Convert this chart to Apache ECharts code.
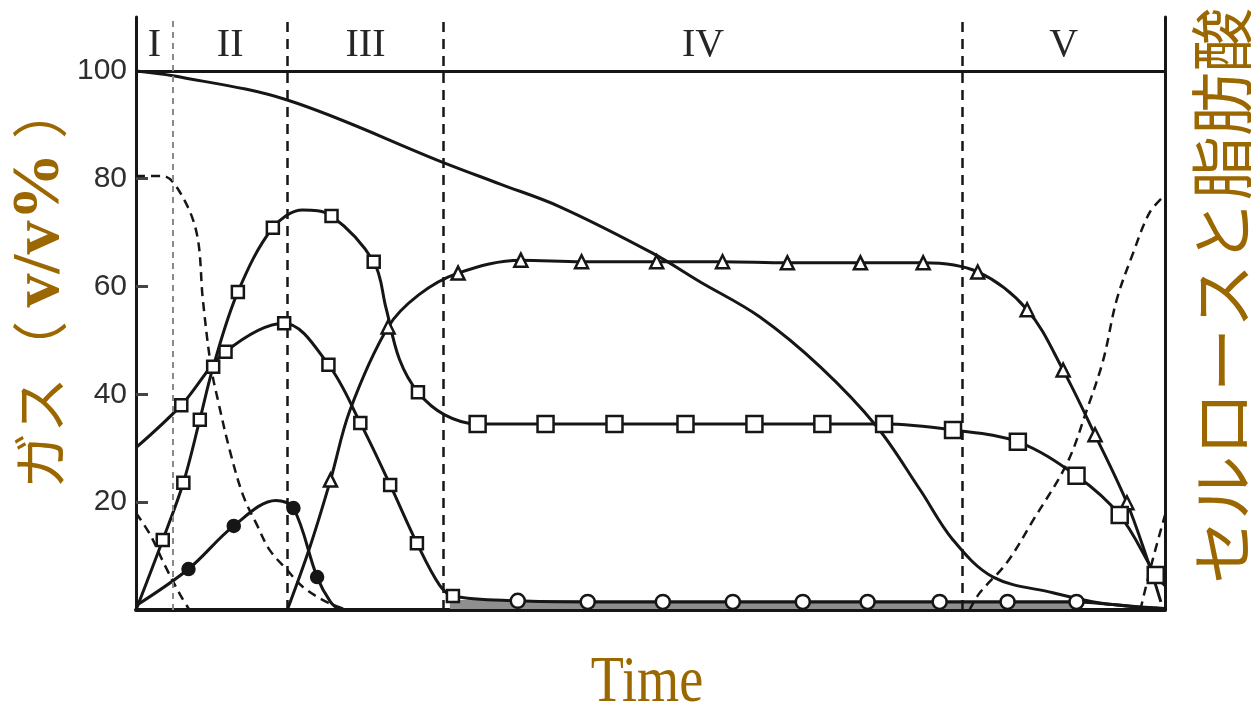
<!DOCTYPE html>
<html>
<head>
<meta charset="utf-8">
<title>ガス組成の推移</title>
<script src="https://cdn.jsdelivr.net/npm/echarts@6/dist/echarts.min.js"></script>
<style>
  html, body { margin: 0; padding: 0; background: #fff; }
  #chart { width: 1251px; height: 706px; }
</style>
</head>
<body>
<div id="chart"></div>
<script>
// 区分 (x は 0-100 の相対時間)
var phaseNames = ['I', 'II', 'III', 'IV', 'V'];
var phaseBounds = [0, 3.6, 14.7, 29.9, 80.3, 100];
var yTicks = [20, 40, 60, 80, 100];

// セルロース (実線・マーカーなし)
var cellulose = [[0, 100], [3.6, 99.1], [14.7, 94.6], [30, 82.9], [35.4, 79.0], [41.2, 74.8],
  [50.2, 66.2], [54.8, 60.9], [60.6, 54.4], [66.5, 45.1], [72.0, 34.0], [76.2, 22.3],
  [79.4, 13.0], [83.3, 6.1], [89.1, 3.2], [93.7, 1.3], [98.8, 0.4], [100, 0.2]];

// メタン (△)
var ch4Obs = [[18.9, 24.1], [24.5, 52.5], [31.3, 62.5], [37.4, 64.9], [43.3, 64.6], [50.6, 64.6],
  [57.0, 64.6], [63.3, 64.4], [70.4, 64.4], [76.5, 64.4], [81.8, 62.7], [86.6, 55.7],
  [90.1, 44.5], [93.2, 32.5], [96.3, 19.9]];
var ch4Line = [[14.7, 0], [16.9, 11.7], [20.8, 37.1], [27.5, 58.5], [98.3, 9.3], [99.6, 1.5]];

// 二酸化炭素 (□)
var co2Obs = [[2.6, 13.0], [4.6, 23.6], [6.2, 35.3], [7.5, 45.1], [9.9, 59.0], [13.3, 70.9],
  [19.0, 73.1], [23.1, 64.6], [27.4, 40.4], [33.2, 34.5], [39.8, 34.5], [46.5, 34.5],
  [53.4, 34.5], [60.1, 34.5], [66.7, 34.5], [72.7, 34.5], [79.4, 33.4], [85.7, 31.2],
  [91.4, 24.9], [95.6, 17.6], [99.1, 6.5]];
var co2Line = [[0, 0], [16.2, 74.2], [24.3, 56], [25.6, 46.5], [30.0, 36.2], [100, 4.5]];

// 脂肪酸 (□ → ○)
var faSquares = [[4.4, 38.0], [8.7, 47.9], [14.4, 53.2], [18.7, 45.5], [21.8, 34.7], [24.7, 23.2],
  [27.3, 12.4], [30.8, 2.6]];
var faCircles = [[37.1, 1.7], [43.9, 1.5], [51.2, 1.5], [58.0, 1.5], [64.8, 1.5], [71.1, 1.5],
  [78.1, 1.5], [84.7, 1.5], [91.4, 1.5]];
var faLine = [[0, 30.1], [29.5, 4.6], [97.5, 0.5], [100, 0.3]];

// 水素 (●)
var h2Obs = [[5.1, 7.6], [9.5, 15.6], [15.3, 18.9], [17.6, 6.1]];
var h2Line = [[0, 0.8], [13.6, 20.3], [18.9, 1.5], [19.8, 0]];

// 窒素・酸素 (破線)
var n2Early = [[0, 80.5], [2.6, 80.5], [4.3, 77.4], [5.9, 69.9], [6.5, 57.5], [7.3, 45.0],
  [8.0, 38.6], [9.1, 29.7], [10.4, 21.3], [11.8, 15.6], [13.0, 11.1], [14.7, 7.4],
  [16.2, 4.3], [18.5, 1.5], [20.5, 0]];
var n2Late = [[81.0, 0], [82.0, 3.2], [84.6, 8.7], [87.2, 16.7], [90.5, 27.3], [92.4, 37.1],
  [94.0, 46.4], [95.3, 57.5], [96.9, 66.2], [98.5, 73.7], [100, 77.0]];
var o2Early = [[0, 18.0], [1.4, 13.9], [2.8, 8.3], [4.3, 2.8], [5.2, 0]];
var o2Late = [[97.6, 0], [98.8, 9.3], [100, 17.6]];

// 底部の灰色帯
var bottomBand = [[30.5, 1.0], [91.0, 1.0]];

var ink = '#161616';
var brown = '#9B6700';

function byX(a, b) { return a[0] - b[0]; }

function curve(name, pts, dashed) {
  return {
    name: name, type: 'line', data: pts.slice().sort(byX), smooth: 0.35,
    symbol: 'none', silent: true, z: 3,
    lineStyle: { color: ink, width: dashed ? 2.5 : 3, type: dashed ? [9, 6] : 'solid' }
  };
}

function marks(name, pts, symbol, size, filled) {
  return {
    name: name, type: 'scatter', data: pts, symbol: symbol, symbolSize: size, silent: true, z: 5,
    itemStyle: { color: filled ? ink : '#fff', borderColor: ink, borderWidth: 2.5, opacity: 1 }
  };
}

var chart = echarts.init(document.getElementById('chart'));

var celluloseSeries = curve('セルロース', cellulose, false);
celluloseSeries.markLine = {
  silent: true, symbol: ['none', 'none'], label: { show: false },
  data: [{ yAxis: 100, lineStyle: { color: ink, width: 3, type: 'solid' } }].concat(
    phaseBounds.slice(1, -1).map(function (b, i) {
      return {
        xAxis: b,
        lineStyle: i === 0 ? { color: '#8a8a8a', width: 2, type: [6, 5] } : { color: ink, width: 2.5, type: [10, 7] }
      };
    }))
};
celluloseSeries.markArea = {
  silent: true,
  itemStyle: { color: 'rgba(0,0,0,0)' },
  label: {
    show: true, position: 'insideTop', distance: 8, color: '#262626',
    fontSize: 40, fontFamily: 'Liberation Serif'
  },
  data: phaseNames.map(function (n, i) {
    return [{ name: n, xAxis: phaseBounds[i] }, { xAxis: phaseBounds[i + 1] }];
  })
};

var option = {
  backgroundColor: '#fff',
  animation: false,
  grid: { left: 136, right: 86, top: 17, bottom: 96 },
  xAxis: {
    type: 'value', min: 0, max: 100,
    axisLine: { show: true, onZero: false, lineStyle: { color: ink, width: 4 } },
    axisTick: { show: false }, axisLabel: { show: false }, splitLine: { show: false }
  },
  yAxis: [{
    type: 'value', min: 0, max: 110, interval: 20,
    axisLine: { show: true, lineStyle: { color: ink, width: 3 } },
    axisTick: { show: true, inside: true, length: 12, customValues: yTicks, lineStyle: { color: '#444', width: 3 } },
    axisLabel: { customValues: yTicks, color: '#2e2e2e', fontSize: 30, fontFamily: 'Liberation Sans', margin: 9 },
    splitLine: { show: false }
  }, {
    type: 'value', min: 0, max: 110, position: 'right',
    axisLine: { show: true, lineStyle: { color: ink, width: 3 } },
    axisTick: { show: false }, axisLabel: { show: false }, splitLine: { show: false }
  }],
  graphic: [{
    type: 'text', x: 40, y: 286, rotation: Math.PI / 2,
    style: {
      text: '{a|ガス（}{b|\u2009v/v%\u2009}{a|）}', align: 'center', verticalAlign: 'middle',
      rich: {
        a: { fontSize: 56, fontFamily: 'Noto Sans CJK JP', fill: brown },
        b: { fontSize: 68, fontFamily: 'Liberation Serif', fontWeight: 'bold', fill: brown }
      }
    }
  }, {
    type: 'text', x: 1222, y: 296, rotation: Math.PI / 2,
    style: {
      text: 'セルロースと脂肪酸', align: 'center', verticalAlign: 'middle',
      fontSize: 64, fontFamily: 'Noto Sans CJK JP', fill: brown
    }
  }, {
    type: 'text', x: 647, y: 684, scaleX: 0.82,
    style: {
      text: 'Time', align: 'center', verticalAlign: 'middle',
      fontSize: 66, fontFamily: 'Liberation Serif', fill: brown
    }
  }],
  series: [
    { name: '帯', type: 'line', data: bottomBand, symbol: 'none', silent: true, z: 1,
      lineStyle: { color: '#8f8f8f', width: 9 } },
    celluloseSeries,
    curve('メタン', ch4Obs.concat(ch4Line), false),
    curve('二酸化炭素', co2Obs.concat(co2Line), false),
    curve('脂肪酸', faSquares.concat(faCircles, faLine), false),
    curve('水素', h2Obs.concat(h2Line), false),
    curve('窒素1', n2Early, true),
    curve('窒素2', n2Late, true),
    curve('酸素1', o2Early, true),
    curve('酸素2', o2Late, true),
    marks('メタン点', ch4Obs, 'triangle', 13, false),
    marks('二酸化炭素点', co2Obs, 'rect', function (v) { return v[0] > 30 ? 16 : 12; }, false),
    marks('脂肪酸点□', faSquares, 'rect', 12, false),
    marks('脂肪酸点○', faCircles, 'circle', 14, false),
    marks('水素点', h2Obs, 'circle', 12, true)
  ]
};

chart.setOption(option);
</script>
</body>
</html>
